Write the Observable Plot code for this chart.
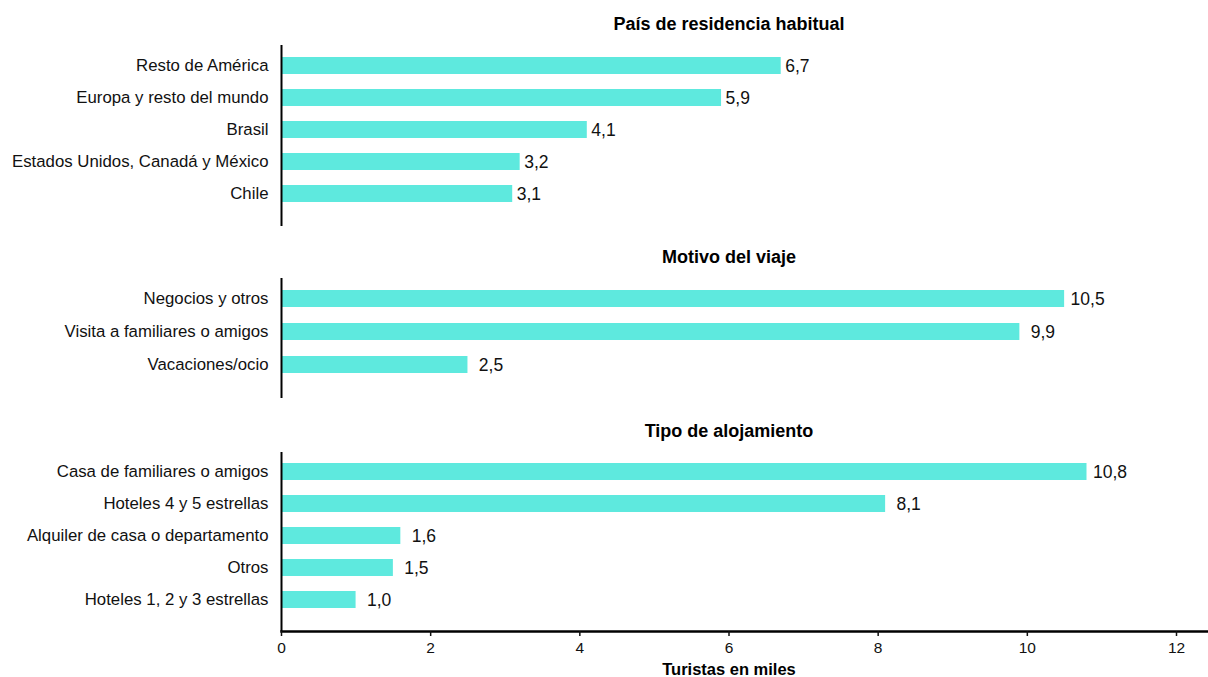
<!DOCTYPE html>
<html><head><meta charset="utf-8">
<script src="https://cdn.jsdelivr.net/npm/d3@7"></script>
<script src="https://cdn.jsdelivr.net/npm/@observablehq/plot@0.6"></script>
<style>
body{margin:0;background:#fff;font-family:"Liberation Sans",Arial,sans-serif}
#chart svg{display:block}
</style>
</head><body><div id="chart"></div>
<script>
const paisCategorias = ["Resto de América","Europa y resto del mundo","Brasil","Estados Unidos, Canadá y México","Chile"];
const paisValores = [6.7,5.9,4.1,3.2,3.1];
const motivoCategorias = ["Negocios y otros","Visita a familiares o amigos","Vacaciones/ocio"];
const motivoValores = [10.5,9.9,2.5];
const alojamientoCategorias = ["Casa de familiares o amigos","Hoteles 4 y 5 estrellas","Alquiler de casa o departamento","Otros","Hoteles 1, 2 y 3 estrellas"];
const alojamientoValores = [10.8,8.1,1.6,1.5,1.0];
const xTicks = [0,2,4,6,8,10,12];
const panelTitles = ["País de residencia habitual","Motivo del viaje","Tipo de alojamiento"];
const xLabel = "Turistas en miles";

const FONT = '"Liberation Sans", Arial, sans-serif';
const BAR = "#5ee9de";
const fmt = v => d3.format(".1f")(v).replace(".", ",");

function panel({title, cats, vals, height, marginTop, marginBottom, insetTop, insetBottom, startLabels, xAxis}) {
  const data = cats.map((c,i) => ({cat:c, value:vals[i]}));
  const marks = [
    Plot.barX(data, {x:"value", y:"cat", fill:BAR}),
    Plot.ruleX([0], {stroke:"black", strokeWidth:2}),
    startLabels
      ? Plot.text(data, {x:"value", y:"cat", text:d=>fmt(d.value), textAnchor:"start", dx:4, fontSize:17.5, fill:"#111"})
      : Plot.text(data, {x:"value", y:"cat", text:d=>fmt(d.value), textAnchor:"middle", dx:23, fontSize:17.5, fill:"#111"}),
    Plot.text([title], {frameAnchor:"top", lineAnchor:"middle", dy:-21, fontWeight:"bold", fontSize:18, fill:"#000"}),
    Plot.axisY({tickSize:0, tickPadding:13, label:null, fontSize:16.8, fill:"#111"})
  ];
  if (xAxis) {
    marks.push(Plot.frame({anchor:"bottom", stroke:"black", strokeWidth:2.5, insetRight:-32}));
    marks.push(Plot.axisX({ticks:xTicks, tickSize:5, tickPadding:5, label:null, tickFormat:d=>d, fontSize:15.5, strokeWidth:1.5, fill:"#111"}));
    marks.push(Plot.text([xLabel], {frameAnchor:"bottom", lineAnchor:"middle", dy:38, fontWeight:"bold", fontSize:16.5, fill:"#000"}));
  }
  return Plot.plot({
    width:1208, height, marginLeft:281, marginRight:32, marginTop, marginBottom,
    style:{fontFamily:FONT, fontSize:"16px", color:"#111", background:"white"},
    x:{domain:[0,12], axis:null},
    y:{domain:cats, paddingInner:0.48, paddingOuter:0.24, insetTop, insetBottom, axis:null},
    marks
  });
}

const el = document.getElementById("chart");
el.append(panel({title:panelTitles[0], cats:paisCategorias, vals:paisValores, height:240, marginTop:45, marginBottom:14, insetTop:3, insetBottom:16, startLabels:true}));
el.append(panel({title:panelTitles[1], cats:motivoCategorias, vals:motivoValores, height:172, marginTop:38, marginBottom:14, insetTop:3, insetBottom:16}));
el.append(panel({title:panelTitles[2], cats:alojamientoCategorias, vals:alojamientoValores, height:265, marginTop:40, marginBottom:46, insetTop:2, insetBottom:15, xAxis:true}));
</script>
</body></html>
